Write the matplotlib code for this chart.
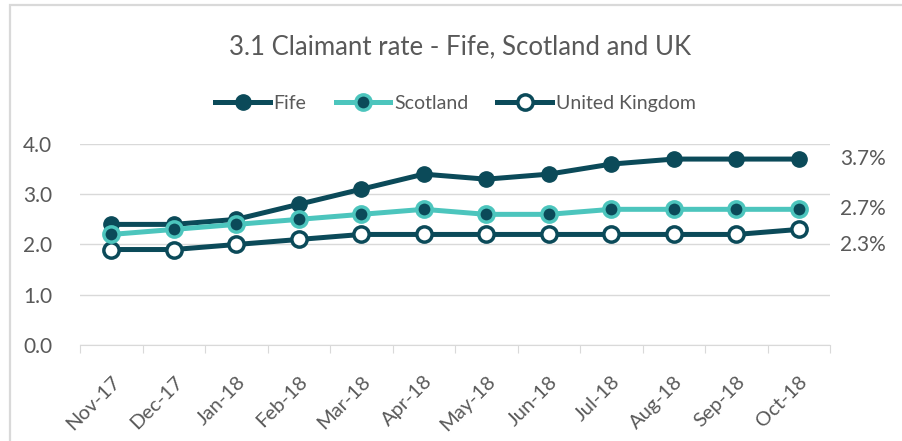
import matplotlib.pyplot as plt
from matplotlib.patches import Rectangle

months = ["Nov-17", "Dec-17", "Jan-18", "Feb-18", "Mar-18", "Apr-18",
          "May-18", "Jun-18", "Jul-18", "Aug-18", "Sep-18", "Oct-18"]
fife = [2.4, 2.4, 2.5, 2.8, 3.1, 3.4, 3.3, 3.4, 3.6, 3.7, 3.7, 3.7]
scotland = [2.2, 2.3, 2.4, 2.5, 2.6, 2.7, 2.6, 2.6, 2.7, 2.7, 2.7, 2.7]
uk = [1.9, 1.9, 2.0, 2.1, 2.2, 2.2, 2.2, 2.2, 2.2, 2.2, 2.2, 2.3]

dark = "#0b4a59"
teal = "#4cc5bd"
grey = "#595959"

plt.rcParams["font.family"] = ["Lato", "DejaVu Sans"]

fig = plt.figure(figsize=(9.02, 4.41), dpi=100)
ax = fig.add_axes([80 / 902, 1 - 345 / 441, 750 / 902, 201 / 441])

# chart frame, only top and left edges are visible in the crop
fig.patches.append(Rectangle((10 / 902, -0.05), 1.2, 1 - 5 / 441 + 0.05,
                             transform=fig.transFigure, fc="white", ec="#d9d9d9", lw=1.6, zorder=-1))

x = range(len(months))
ax.plot(x, fife, color=dark, lw=3.6, marker="o", ms=11, mfc=dark, mec=dark, label="Fife", zorder=3)
ax.plot(x, scotland, color=teal, lw=3.6, marker="o", ms=11, mfc=dark, mec=teal, mew=2.5, label="Scotland", zorder=4)
ax.plot(x, uk, color=dark, lw=3.6, marker="o", ms=11, mfc="white", mec=dark, mew=2.5, label="United Kingdom", zorder=3)

ax.set_xlim(-0.5, len(months) - 0.5)
ax.set_ylim(0, 4)
ax.set_yticks([0, 1, 2, 3, 4])
ax.set_yticklabels([f"{v:.1f}" for v in [0, 1, 2, 3, 4]], color=grey, fontsize=15)
ax.grid(axis="y", color="#d9d9d9", lw=1)
ax.set_axisbelow(True)
for s in ["top", "right", "left"]:
    ax.spines[s].set_visible(False)
ax.spines["bottom"].set_color("#d9d9d9")
ax.tick_params(axis="y", length=0, pad=20)

ax.set_xticks([i - 0.5 for i in range(len(months) + 1)], minor=False)
ax.set_xticklabels([])
ax.tick_params(axis="x", which="major", length=6, color="#d9d9d9")
ax.set_xticks(list(x), minor=True)
ax.set_xticklabels(months, minor=True, rotation=45, ha="right", rotation_mode="anchor",
                   color=grey, fontsize=14.5)
ax.tick_params(axis="x", which="minor", length=0, pad=20)

# end labels, UK label nudged down so it doesn't collide with Scotland
offsets = [0, 0, -11]
for series, dy in zip([fife, scotland, uk], offsets):
    ax.annotate(f"{series[-1]:.1f}%", xy=(len(months) - 0.5, series[-1]), xytext=(7, dy),
                textcoords="offset points", va="center", ha="left", color=grey, fontsize=15,
                annotation_clip=False)

fig.text(0.51, 0.893, "3.1 Claimant rate - Fife, Scotland and UK", ha="center", va="center",
         color=grey, fontsize=18.5)
fig.legend(loc="center", bbox_to_anchor=(0.505, 0.766), ncol=3, frameon=False, fontsize=14,
           handlelength=2.8, columnspacing=1.5, handletextpad=0.2, labelcolor=grey)

fig.savefig("out.png", dpi=100)
